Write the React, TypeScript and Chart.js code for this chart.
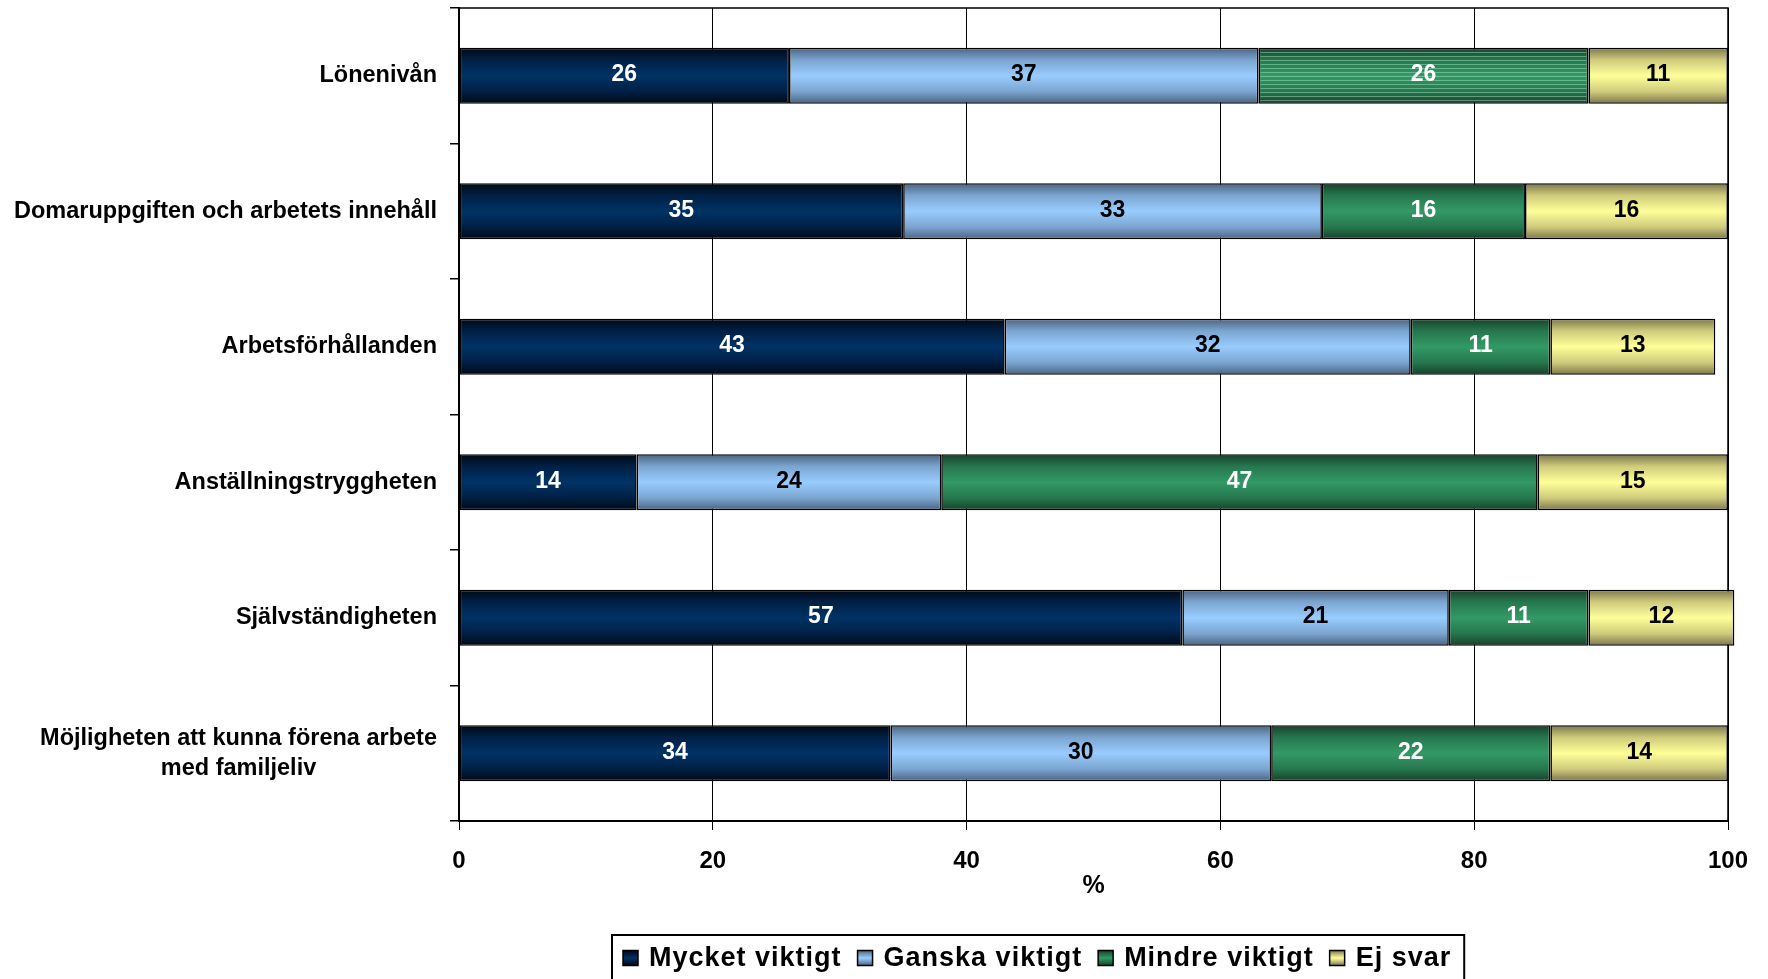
import React, { useEffect, useRef } from 'react';
import { Chart, registerables } from 'chart.js';

Chart.register(...registerables);

// ---------- data ----------
const categories: string[][] = [
  ['Lönenivån'],
  ['Domaruppgiften och arbetets innehåll'],
  ['Arbetsförhållanden'],
  ['Anställningstryggheten'],
  ['Självständigheten'],
  ['Möjligheten att kunna förena arbete', 'med familjeliv'],
];
const seriesNames = ['Mycket viktigt', 'Ganska viktigt', 'Mindre viktigt', 'Ej svar'];
const mycketViktigt = [26, 35, 43, 14, 57, 34];
const ganskaViktigt = [37, 33, 32, 24, 21, 30];
const mindreViktigt = [26, 16, 11, 47, 11, 22];
const ejSvar = [11, 16, 13, 15, 11.5, 14];
const xTicks = [0, 20, 40, 60, 80, 100];
const xTitle = '%';

// ---------- styles ----------
const FONT = '"Liberation Sans", Arial, Helvetica, sans-serif';
const BAR_PCT = 0.415;
const COLORS = [
  { edge: '#000814', mid: '#002045', center: '#003366', label: '#ffffff' },
  { edge: '#4b6280', mid: '#7ba5d0', center: '#99ccff', label: '#000000' },
  { edge: '#16402a', mid: '#26774e', center: '#339966', label: '#ffffff' },
  { edge: '#7a754a', mid: '#cfcb7c', center: '#ffff99', label: '#000000' },
];

const makeFill = (si: number) => (ctx: any) => {
  const c = COLORS[si];
  const chart = ctx.chart;
  const ys = chart.scales && chart.scales.y;
  if (ctx.type !== 'data' || !ys || !(ys.height > 0)) return c.center;
  const yc = ys.getPixelForValue(ctx.dataIndex);
  const half = ((ys.bottom - ys.top) / categories.length) * BAR_PCT / 2;
  const g = chart.ctx.createLinearGradient(0, yc - half, 0, yc + half);
  g.addColorStop(0, c.edge);
  g.addColorStop(0.22, c.mid);
  g.addColorStop(0.5, c.center);
  g.addColorStop(0.78, c.mid);
  g.addColorStop(1, c.edge);
  return g;
};

const hatched = [{ dataset: 2, index: 0 }];

const framePlugin = {
  id: 'frame',
  beforeDatasetsDraw(chart: any) {
    const { ctx, chartArea: a } = chart;
    ctx.save();
    ctx.strokeStyle = '#000';
    ctx.lineWidth = 1.5;
    ctx.beginPath();
    ctx.moveTo(a.left, a.top);
    ctx.lineTo(a.right, a.top);
    ctx.lineTo(a.right, a.bottom);
    ctx.stroke();
    ctx.restore();
  },
};

const valueLabelPlugin = {
  id: 'valueLabels',
  afterDatasetsDraw(chart: any) {
    const ctx = chart.ctx;
    ctx.save();
    // hatch texture
    hatched.forEach(({ dataset, index }) => {
      const el = chart.getDatasetMeta(dataset).data[index];
      if (!el) return;
      const { x, y, base, height } = el.getProps(['x', 'y', 'base', 'height'], true);
      ctx.strokeStyle = 'rgba(170,235,200,0.45)';
      ctx.lineWidth = 1;
      for (let yy = y - height / 2 + 4; yy < y + height / 2 - 2; yy += 4) {
        ctx.beginPath();
        ctx.moveTo(Math.min(x, base) + 2, Math.round(yy) + 0.5);
        ctx.lineTo(Math.max(x, base) - 2, Math.round(yy) + 0.5);
        ctx.stroke();
      }
    });
    ctx.font = `bold 23px ${FONT}`;
    ctx.textAlign = 'center';
    ctx.textBaseline = 'middle';
    chart.data.datasets.forEach((ds: any, di: number) => {
      const meta = chart.getDatasetMeta(di);
      meta.data.forEach((el: any, i: number) => {
        const { x, y, base } = el.getProps(['x', 'y', 'base'], true);
        ctx.fillStyle = COLORS[di].label;
        ctx.fillText(String(Math.round(ds.data[i])), (x + base) / 2, y - 1);
      });
    });
    ctx.restore();
  },
};

const yLabelPlugin = {
  id: 'yLabels',
  afterDraw(chart: any) {
    const ctx = chart.ctx;
    const ys = chart.scales.y;
    ctx.save();
    ctx.font = `bold 23.5px ${FONT}`;
    ctx.fillStyle = '#000';
    ctx.textAlign = 'center';
    ctx.textBaseline = 'middle';
    const right = ys.right - 22;
    const lh = 30;
    categories.forEach((lines, i) => {
      const yc = ys.getPixelForValue(i);
      const bw = Math.max(...lines.map((l) => ctx.measureText(l).width));
      const cx = right - bw / 2;
      lines.forEach((l, k) => ctx.fillText(l, cx, yc + (k - (lines.length - 1) / 2) * lh));
    });
    ctx.restore();
  },
};

const LEGEND_CENTER_X = 1038;
const LEGEND_TOP = 935;
const legendPlugin = {
  id: 'boxLegend',
  afterDraw(chart: any) {
    const ctx = chart.ctx;
    ctx.save();
    ctx.font = `bold 27px ${FONT}`;
    (ctx as any).letterSpacing = '1px';
    const widths = seriesNames.map((n) => ctx.measureText(n).width);
    const padL = 11, padR = 13, mk = 15, gapMT = 11, gapItem = 16;
    const total =
      padL + padR + widths.reduce((a, w) => a + w, 0) + seriesNames.length * (mk + gapMT) + (seriesNames.length - 1) * gapItem;
    const left = Math.round(LEGEND_CENTER_X - total / 2);
    ctx.fillStyle = '#fff';
    ctx.fillRect(left, LEGEND_TOP, total, 80);
    ctx.lineWidth = 2;
    ctx.strokeStyle = '#000';
    ctx.strokeRect(left, LEGEND_TOP, total, 80);
    const cy = 958;
    let x = left + padL;
    seriesNames.forEach((n, i) => {
      const c = COLORS[i];
      const g = ctx.createLinearGradient(0, cy - mk / 2, 0, cy + mk / 2);
      g.addColorStop(0, c.edge);
      g.addColorStop(0.3, c.mid);
      g.addColorStop(0.5, c.center);
      g.addColorStop(0.7, c.mid);
      g.addColorStop(1, c.edge);
      ctx.fillStyle = g;
      ctx.fillRect(x, cy - mk / 2, mk, mk);
      ctx.lineWidth = 1.5;
      ctx.strokeStyle = '#000';
      ctx.strokeRect(x, cy - mk / 2, mk, mk);
      x += mk + gapMT;
      ctx.fillStyle = '#000';
      ctx.textAlign = 'left';
      ctx.textBaseline = 'middle';
      ctx.fillText(n, x, cy + 1);
      x += widths[i] + gapItem;
    });
    ctx.restore();
  },
};

export default function App() {
  const ref = useRef<HTMLCanvasElement | null>(null);
  useEffect(() => {
    if (!ref.current) return;
    const seriesData = [mycketViktigt, ganskaViktigt, mindreViktigt, ejSvar];
    const chart = new Chart(ref.current, {
      type: 'bar',
      data: {
        labels: categories.map((c) => c.join(' ')),
        datasets: seriesNames.map((name, i) => ({
          label: name,
          data: seriesData[i],
          backgroundColor: makeFill(i),
          borderColor: '#000',
          borderWidth: 1.6,
          borderSkipped: false,
          barPercentage: BAR_PCT,
          categoryPercentage: 1,
          clip: false as any,
        })),
      },
      options: {
        indexAxis: 'y',
        responsive: false,
        animation: false,
        layout: { padding: { top: 8, right: 40, bottom: 78, left: 0 } },
        plugins: { legend: { display: false }, tooltip: { enabled: false } },
        scales: {
          x: {
            stacked: true,
            min: 0,
            max: 100,
            afterBuildTicks: (s: any) => {
              s.ticks = xTicks.map((v) => ({ value: v }));
            },
            afterFit: (s: any) => {
              s.height = 80;
            },
            grid: { color: '#000', lineWidth: 1, tickLength: 9, drawTicks: true },
            border: { display: true, color: '#000', width: 2 },
            ticks: {
              color: '#000',
              font: { family: FONT, size: 24, weight: 'bold' },
              padding: 17,
              maxRotation: 0,
            },
            title: {
              display: true,
              text: xTitle,
              color: '#000',
              font: { family: FONT, size: 25, weight: 'bold' },
              padding: { top: 0, bottom: 0 },
            },
          },
          y: {
            stacked: true,
            afterFit: (s: any) => {
              s.width = 459;
            },
            grid: { offset: true, drawOnChartArea: false, drawTicks: true, tickLength: 9, color: '#000', lineWidth: 1.5 },
            border: { display: true, color: '#000', width: 2 },
            ticks: { display: false },
          },
        },
      },
      plugins: [framePlugin, valueLabelPlugin, yLabelPlugin, legendPlugin],
    } as any);
    return () => chart.destroy();
  }, []);
  return (
    <div style={{ position: 'fixed', left: 0, top: 0, width: 1768, height: 979, background: '#fff' }}>
      <canvas ref={ref} width={1768} height={979} style={{ width: 1768, height: 979, display: 'block' }} />
    </div>
  );
}
